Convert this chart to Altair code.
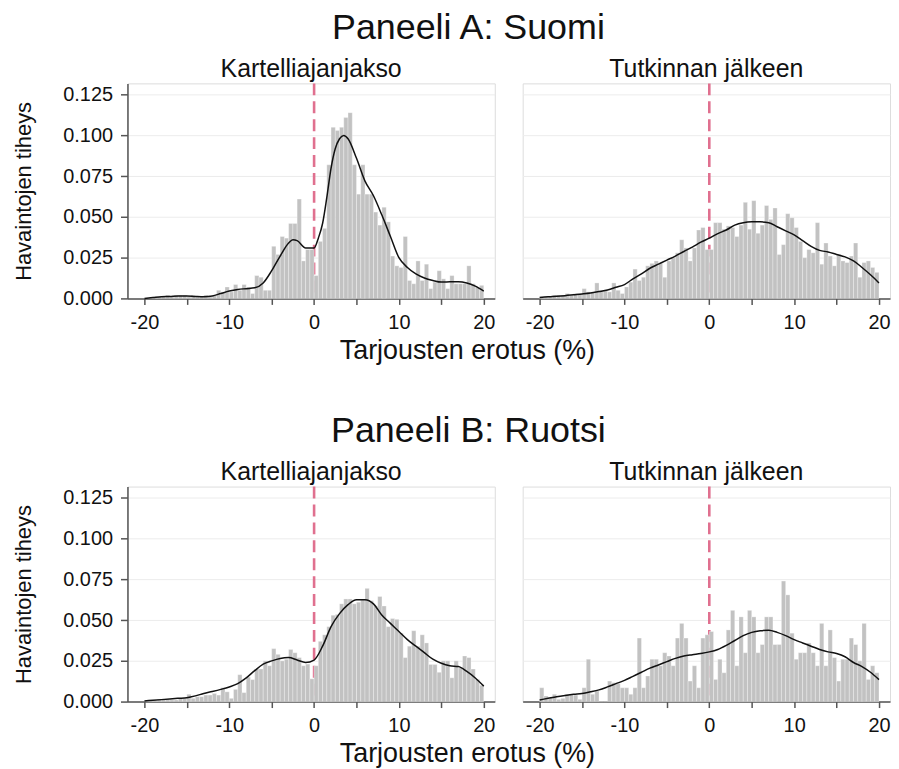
import altair as alt
import pandas as pd

FONT = "Liberation Sans"

# bin lower edges (bin width 0.5), categories of the histograms
BIN_LO = [round(-20 + 0.5 * i, 1) for i in range(80)]
BIN_W = 0.5

# ---- Panel A: Suomi ----
A_CARTEL_HIST = [
    0.000, 0.000, 0.001, 0.001, 0.001, 0.002, 0.001, 0.002, 0.002, 0.002,
    0.001, 0.002, 0.001, 0.001, 0.002, 0.001, 0.002, 0.005, 0.004, 0.007,
    0.004, 0.0085, 0.005, 0.0085, 0.007, 0.003, 0.014, 0.013, 0.005, 0.005,
    0.032, 0.027, 0.038, 0.037, 0.046, 0.046, 0.061, 0.023, 0.030, 0.030,
    0.014, 0.035, 0.043, 0.082, 0.105, 0.103, 0.105, 0.111, 0.114, 0.082,
    0.064, 0.082, 0.064, 0.064, 0.053, 0.045, 0.056, 0.047, 0.026, 0.020,
    0.019, 0.038, 0.011, 0.009, 0.023, 0.011, 0.021, 0.006, 0.010, 0.017,
    0.012, 0.006, 0.014, 0.009, 0.009, 0.009, 0.020, 0.009, 0.007, 0.008,
]
A_AFTER_HIST = [
    0.001, 0.001, 0.001, 0.002, 0.002, 0.002, 0.003, 0.002, 0.003, 0.003,
    0.006, 0.004, 0.004, 0.0095, 0.005, 0.005, 0.004, 0.0095, 0.005, 0.003,
    0.007, 0.010, 0.018, 0.011, 0.013, 0.020, 0.0215, 0.023, 0.0215, 0.013,
    0.023, 0.025, 0.028, 0.036, 0.031, 0.023, 0.031, 0.042, 0.0435, 0.030,
    0.030, 0.0465, 0.0465, 0.0425, 0.0445, 0.0435, 0.038, 0.045, 0.059, 0.0425,
    0.060, 0.040, 0.045, 0.057, 0.0485, 0.0555, 0.027, 0.033, 0.052, 0.0495,
    0.0435, 0.035, 0.025, 0.030, 0.028, 0.0465, 0.021, 0.034, 0.026, 0.020,
    0.027, 0.023, 0.022, 0.026, 0.034, 0.013, 0.022, 0.023, 0.019, 0.016,
]
A_CARTEL_CURVE_X = [-20, -19, -18, -17, -16, -15, -14, -13, -12, -11, -10, -9, -8, -7, -6, -5, -4, -3,
                    -2.5, -2, -1, 0, 0.5, 1, 1.5, 2, 2.5, 3, 3.5, 4,
                    5, 6, 7, 8, 9, 10, 11, 12, 13, 14, 15, 16, 17, 18, 19, 20]
A_CARTEL_CURVE_Y = [0.000, 0.0005, 0.001, 0.0012, 0.0015, 0.0015, 0.0012, 0.001, 0.0015, 0.003,
                    0.0045, 0.0055, 0.006, 0.0065, 0.0095, 0.017, 0.026, 0.034,
                    0.036, 0.0355, 0.031, 0.031, 0.037, 0.046, 0.062, 0.080, 0.092, 0.098, 0.100, 0.098,
                    0.086, 0.072, 0.063, 0.051, 0.038, 0.025, 0.019, 0.015, 0.0125, 0.011,
                    0.010, 0.0102, 0.0103, 0.0095, 0.0075, 0.0045]
CURVE_X = list(range(-20, 21))
A_AFTER_CURVE_Y = [0.0005, 0.001, 0.0013, 0.0017, 0.0022, 0.0027, 0.0033, 0.0042, 0.0052, 0.0068,
                   0.0085, 0.012, 0.015, 0.0185, 0.021, 0.0235, 0.026, 0.0288, 0.0315, 0.0345,
                   0.037,
                   0.0398, 0.042, 0.045, 0.0465, 0.047, 0.047, 0.0465, 0.044, 0.0415, 0.039,
                   0.0355, 0.032, 0.0295, 0.0285, 0.027, 0.0255, 0.023, 0.019, 0.0145, 0.0095]

# ---- Panel B: Ruotsi ----
B_CARTEL_HIST = [
    0.000, 0.000, 0.001, 0.0015, 0.001, 0.001, 0.001, 0.001, 0.002, 0.002,
    0.0045, 0.002, 0.003, 0.003, 0.004, 0.004, 0.005, 0.004, 0.0085, 0.006,
    0.002, 0.0075, 0.0165, 0.0055, 0.015, 0.0135, 0.020, 0.020, 0.025, 0.022,
    0.0325, 0.029, 0.025, 0.026, 0.032, 0.030, 0.027, 0.022, 0.023, 0.014,
    0.022, 0.037, 0.041, 0.046, 0.053, 0.0535, 0.060, 0.063, 0.063, 0.060,
    0.061, 0.0625, 0.0695, 0.062, 0.0587, 0.0645, 0.0587, 0.046, 0.051, 0.0505,
    0.042, 0.027, 0.034, 0.0435, 0.034, 0.041, 0.036, 0.0228, 0.0228, 0.018,
    0.025, 0.025, 0.0146, 0.025, 0.0207, 0.028, 0.027, 0.020, 0.0136, 0.010,
]
B_AFTER_HIST = [
    0.0085, 0.0035, 0.0024, 0.0045, 0.0014, 0.002, 0.0045, 0.0045, 0.004, 0.0014,
    0.0085, 0.026, 0.0045, 0.0065, 0.000, 0.000, 0.0126, 0.0116, 0.011, 0.0085,
    0.0085, 0.0045, 0.0085, 0.039, 0.0085, 0.0157, 0.026, 0.026, 0.022, 0.030,
    0.028, 0.022, 0.039, 0.048, 0.039, 0.0126, 0.022, 0.0085, 0.039, 0.041,
    0.043, 0.0136, 0.026, 0.0177, 0.044, 0.056, 0.022, 0.052, 0.030, 0.056,
    0.052, 0.030, 0.035, 0.052, 0.052, 0.035, 0.035, 0.074, 0.0655, 0.042,
    0.026, 0.030, 0.030, 0.036, 0.030, 0.022, 0.048, 0.022, 0.044, 0.027,
    0.0126, 0.026, 0.026, 0.039, 0.035, 0.025, 0.048, 0.0136, 0.022, 0.0177,
]
B_CARTEL_CURVE_Y = [0.0004, 0.0008, 0.0012, 0.0016, 0.002, 0.0024, 0.0035, 0.005, 0.0062, 0.0075,
                    0.009, 0.011, 0.0145, 0.019, 0.023, 0.025, 0.0265, 0.027, 0.0255, 0.024,
                    0.0255,
                    0.034, 0.046, 0.054, 0.0595, 0.0625, 0.0625, 0.060, 0.053, 0.048, 0.043,
                    0.038, 0.034, 0.030, 0.026, 0.0235, 0.022, 0.0215, 0.0185, 0.0145, 0.0095]
B_AFTER_CURVE_Y = [0.001, 0.002, 0.003, 0.0038, 0.0045, 0.005, 0.006, 0.0072, 0.009, 0.011,
                   0.013, 0.0155, 0.018, 0.0205, 0.0225, 0.0245, 0.0265, 0.028, 0.0288, 0.0295,
                   0.0305,
                   0.032, 0.0345, 0.0375, 0.0405, 0.0425, 0.0435, 0.0438, 0.0425, 0.0405, 0.038,
                   0.036, 0.034, 0.032, 0.0305, 0.0295, 0.0275, 0.024, 0.0215, 0.018, 0.0135]

SUB_TITLES = ["Kartelliajanjakso", "Tutkinnan jälkeen"]
PANEL_TITLES = ["Paneeli A: Suomi", "Paneeli B: Ruotsi"]
X_TITLE = "Tarjousten erotus (%)"
Y_TITLE = "Havaintojen tiheys"
X_TICKS = [-20, -15, -10, -5, 0, 5, 10, 15, 20]
Y_TICKS = [0.0, 0.025, 0.05, 0.075, 0.1, 0.125]

W, H = 369, 216
XSCALE = alt.Scale(domain=[-22, 21.3], nice=False, zero=False, padding=0)
YSCALE = alt.Scale(domain=[0, 0.132], nice=False, padding=0)
AX_COL = "#555555"
TXT = "#111111"

X_AXIS = alt.Axis(values=X_TICKS, labelExpr="datum.value % 10 == 0 ? '' + datum.value : ''",
                  title=None, grid=False, tickSize=6, labelFontSize=20, labelPadding=8,
                  domainColor=AX_COL, tickColor=AX_COL, domainWidth=1.5, tickWidth=1.5,
                  labelColor=TXT, labelFont=FONT)


def y_axis(show):
    if show:
        return alt.Axis(values=Y_TICKS, format=".3f", title=Y_TITLE, titleFontSize=22,
                        titleFontWeight="normal", titleFont=FONT, titleColor=TXT,
                        titlePadding=27, labelFontSize=20, labelFont=FONT, labelColor=TXT,
                        labelPadding=8, tickSize=7, domainColor=AX_COL, tickColor=AX_COL,
                        domainWidth=1.5, tickWidth=1.5, grid=True, gridColor="#ececec")
    return alt.Axis(values=Y_TICKS, title=None, labels=False, ticks=False, domain=False,
                    grid=True, gridColor="#ececec")


def subplot(hist, cx, cy, title, show_y):
    hdf = pd.DataFrame({"lo": BIN_LO, "hi": [b + BIN_W for b in BIN_LO], "d": hist})
    cdf = pd.DataFrame({"x": cx, "y": cy})
    rule = alt.Chart(pd.DataFrame({"x": [0]})).mark_rule(
        color="#E0708F", strokeDash=[12, 6], strokeWidth=2.6
    ).encode(x=alt.X("x:Q", scale=XSCALE, axis=X_AXIS))
    bars = alt.Chart(hdf).mark_bar(color="#C2C2C2", stroke="#ffffff", strokeWidth=0.3).encode(
        x=alt.X("lo:Q", scale=XSCALE, axis=X_AXIS),
        x2="hi:Q",
        y=alt.Y("d:Q", scale=YSCALE, axis=y_axis(show_y)),
        y2=alt.datum(0),
    )
    line = alt.Chart(cdf).mark_line(color=TXT, strokeWidth=1.5, interpolate="monotone").encode(
        x=alt.X("x:Q", scale=XSCALE, axis=X_AXIS),
        y=alt.Y("y:Q", scale=YSCALE, axis=y_axis(show_y)),
    )
    return alt.layer(rule, bars, line).properties(
        width=W, height=H,
        title=alt.TitleParams(title, fontSize=25, fontWeight="normal", font=FONT,
                              color=TXT, offset=0, anchor="middle"),
    )


def row(h1, c1x, c1y, h2, c2x, c2y, ptitle):
    inner = alt.hconcat(
        subplot(h1, c1x, c1y, SUB_TITLES[0], True),
        subplot(h2, c2x, c2y, SUB_TITLES[1], False),
        spacing=26,
    ).properties(title=alt.TitleParams(X_TITLE, orient="bottom", anchor="middle", fontSize=27,
                                       fontWeight="normal", font=FONT, color=TXT, offset=5,
                                       dx=16))
    return alt.vconcat(inner).properties(
        title=alt.TitleParams(ptitle, anchor="middle", fontSize=36, fontWeight="normal",
                              font=FONT, color=TXT, offset=10, dx=17)
    )


rowA = row(A_CARTEL_HIST, A_CARTEL_CURVE_X, A_CARTEL_CURVE_Y,
           A_AFTER_HIST, CURVE_X, A_AFTER_CURVE_Y, PANEL_TITLES[0])
rowB = row(B_CARTEL_HIST, CURVE_X, B_CARTEL_CURVE_Y,
           B_AFTER_HIST, CURVE_X, B_AFTER_CURVE_Y, PANEL_TITLES[1])

chart = alt.vconcat(rowA, rowB, spacing=49).properties(
    padding={"left": 4, "top": 0, "right": 0, "bottom": 0}
).configure_view(stroke=None).configure(background="white")

chart.save("out.html", embed_options={"renderer": "svg", "actions": False})
